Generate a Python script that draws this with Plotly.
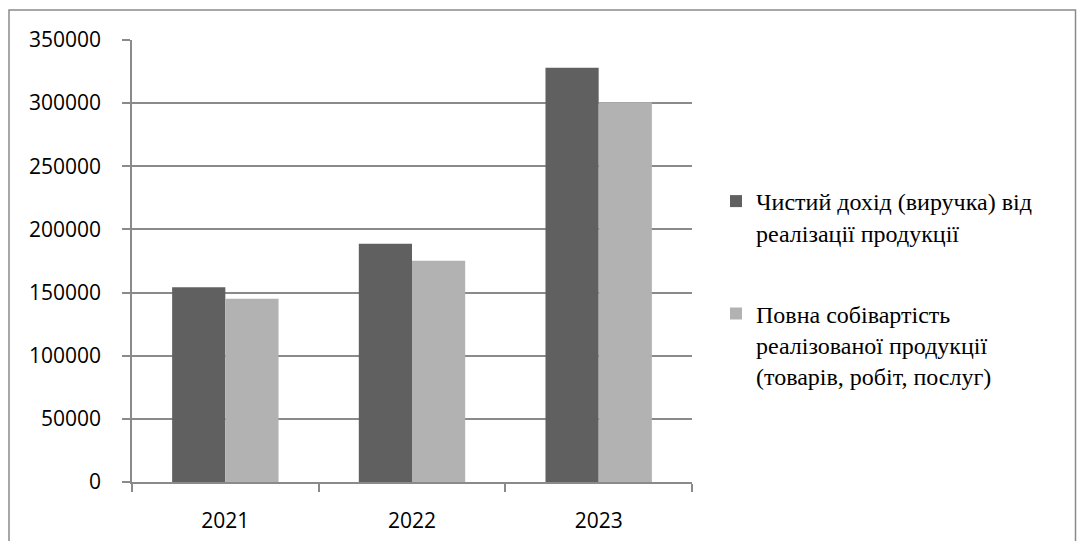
import plotly.graph_objects as go

# Data
years = ["2021", "2022", "2023"]
revenue = [154200, 188600, 328000]
cost = [145200, 175100, 300800]
revenue_name = "Чистий дохід (виручка) від<br>реалізації продукції"
cost_name = "Повна собівартість<br>реалізованої продукції<br>(товарів, робіт, послуг)"
y_ticks = [0, 50000, 100000, 150000, 200000, 250000, 300000, 350000]

W, H = 1077, 541
L, R, T, B = 132, 692, 40, 482

fig = go.Figure()
fig.add_trace(go.Bar(x=years, y=revenue, name=revenue_name,
                     marker=dict(color="#606060", line=dict(width=0)),
                     legendgroup="a"))
fig.add_trace(go.Bar(x=years, y=cost, name=cost_name,
                     marker=dict(color="#b2b2b2", line=dict(width=0)),
                     legendgroup="b"))

def px_x(px):
    return (px - L) / (R - L)

def px_y(py):
    return (B - py) / (B - T)

# Outer chart frame
fig.add_shape(type="rect", xref="paper", yref="paper",
              x0=px_x(9), x1=px_x(1075.5), y0=px_y(546), y1=px_y(10),
              line=dict(color="#8a8a8a", width=1.5), fillcolor="rgba(0,0,0,0)",
              layer="below")

axis_font = dict(family="Open Sans", size=21, color="#000000")

fig.update_layout(
    width=W, height=H,
    margin=dict(l=L, r=W - R, t=T, b=H - B, pad=0, autoexpand=False),
    paper_bgcolor="white", plot_bgcolor="white",
    barmode="group", bargap=0.43, bargroupgap=0,
    showlegend=True,
    legend=dict(
        x=px_x(716), y=px_y(179), xanchor="left", yanchor="top",
        font=dict(family="'Liberation Serif', 'Times New Roman', serif",
                  size=24, color="#000000"),
        tracegroupgap=47, valign="top", traceorder="grouped",
        itemwidth=30, bgcolor="rgba(0,0,0,0)",
    ),
    xaxis=dict(
        type="category", showgrid=False, showline=True, linecolor="#8a8a8a", linewidth=1.5,
        ticks="outside", tickson="boundaries", ticklen=8, tickcolor="#8a8a8a", tickwidth=1.5,
        tickfont=axis_font, ticklabelstandoff=19, automargin=False,
    ),
    yaxis=dict(
        range=[0, 350000], tickvals=y_ticks, ticktext=[str(v) for v in y_ticks],
        showgrid=True, gridcolor="#8a8a8a", gridwidth=1.5, zeroline=False,
        showline=True, linecolor="#8a8a8a", linewidth=1.5,
        ticks="outside", ticklen=8, tickcolor="#8a8a8a", tickwidth=1.5,
        tickfont=axis_font, ticklabelstandoff=17, automargin=False,
    ),
)

fig.write_html("out.html")
